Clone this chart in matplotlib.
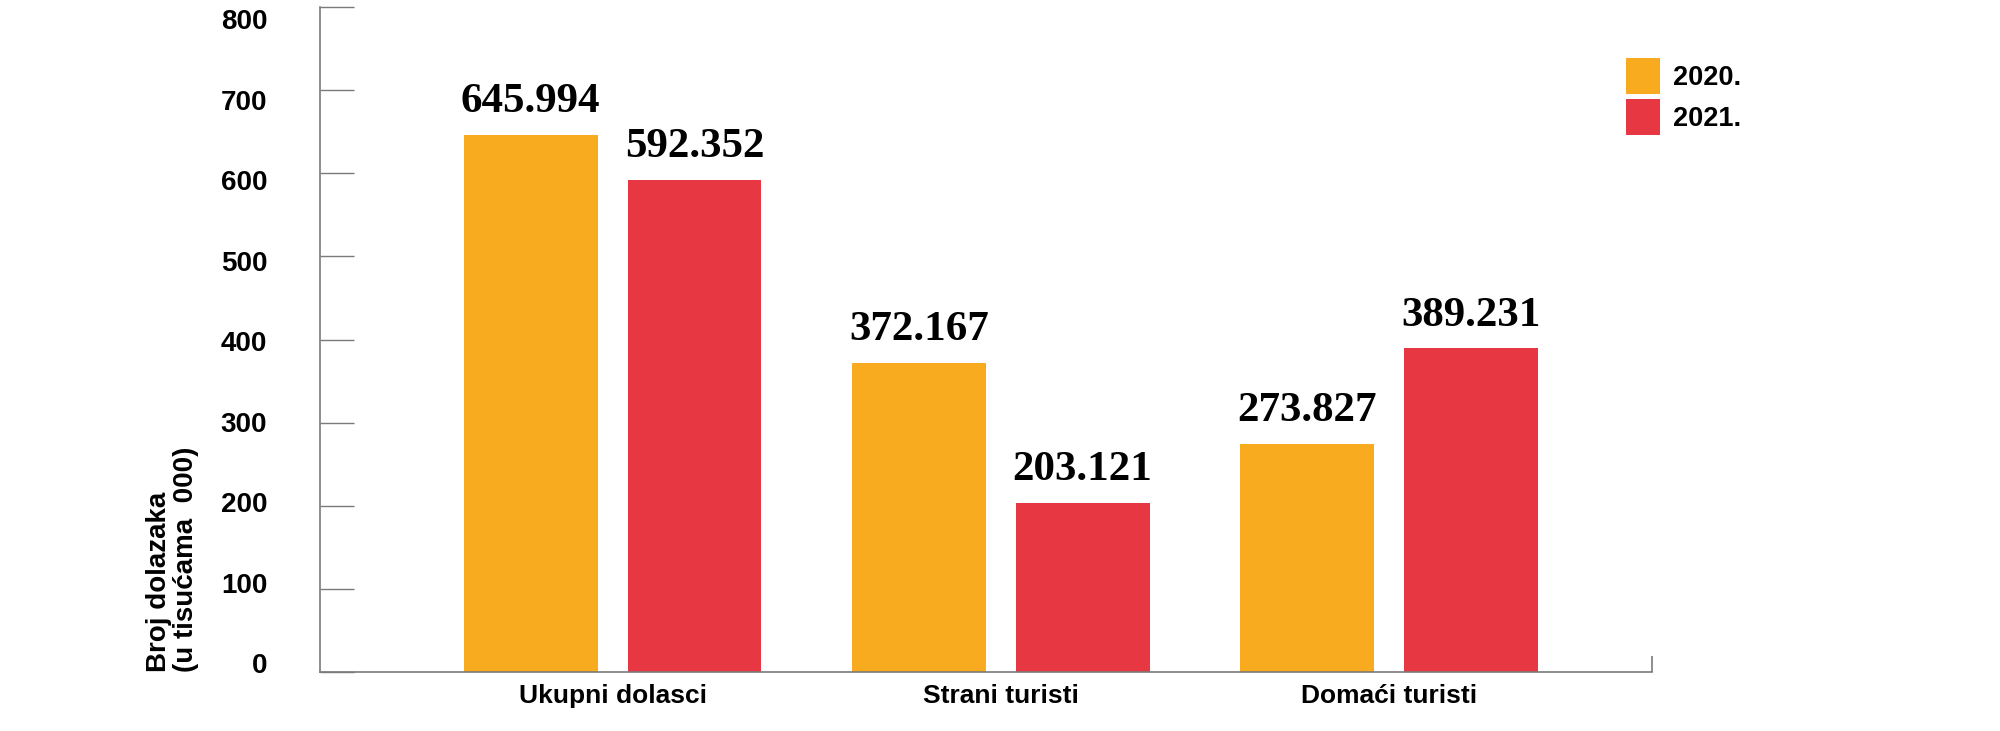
"""
Dolasci turista 2020. vs 2021. (u tisućama) — grouped bar chart.
Output: out.png
"""
import numpy as np
import matplotlib
matplotlib.use("Agg")
import matplotlib.pyplot as plt
from matplotlib.patches import Patch

# ---- data --------------------------------------------------------------
categories = ["Ukupni dolasci", "Strani turisti", "Domaći turisti"]
years = ["2020.", "2021."]
values_2020 = [645.994, 372.167, 273.827]
values_2021 = [592.352, 203.121, 389.231]
y_ticks = [0, 100, 200, 300, 400, 500, 600, 700, 800]
y_label = "Broj dolazaka\n(u tisućama  000)"

ORANGE = "#F9AB1F"
RED = "#E73743"
AXIS_GREY = "#7a7a7a"
SANS = ["Liberation Sans", "DejaVu Sans"]
SERIF = ["Liberation Serif", "DejaVu Serif"]


def fmt(v):
    return f"{v:.3f}"


def main():
    fig = plt.figure(figsize=(20, 7.31), dpi=100)
    ax = fig.add_axes([0.16, 0.0807, 0.666, 0.9097])

    x = np.arange(len(categories))
    w = 0.345
    off = 0.211
    b1 = ax.bar(x - off, values_2020, w, color=ORANGE, label=years[0])
    b2 = ax.bar(x + off, values_2021, w, color=RED, label=years[1])

    for bars, vals in ((b1, values_2020), (b2, values_2021)):
        for rect, v in zip(bars, vals):
            ax.annotate(fmt(v), (rect.get_x() + rect.get_width() / 2, v),
                        xytext=(0, 16.5), textcoords="offset points",
                        ha="center", va="baseline", fontsize=31,
                        fontweight="bold", family=SERIF, color="black")

    x_right = 2.678
    ax.set_xlim(-0.754, x_right)
    ax.set_ylim(0, 800)

    for s in ("top", "right"):
        ax.spines[s].set_visible(False)
    for s in ("left", "bottom"):
        ax.spines[s].set_color(AXIS_GREY)
        ax.spines[s].set_linewidth(1.2)

    # inward y ticks, labels drawn on a twin axis (slightly offset spacing)
    ax.set_yticks(y_ticks)
    ax.set_yticklabels([])
    ax.tick_params(axis="y", direction="in", length=24.5, width=1.0,
                   color=AXIS_GREY)

    ax.set_xticks(x)
    ax.set_xticklabels(categories, fontsize=19, fontweight="bold",
                       family=SANS)
    ax.tick_params(axis="x", length=0, pad=8.5)
    ax.set_xticks([x_right], minor=True)
    ax.tick_params(axis="x", which="minor", direction="in", length=11.5,
                   width=1.2, color=AXIS_GREY)

    ax2 = ax.twinx()
    ax2.set_ylim(-11.2, 815)
    ax2.yaxis.tick_left()
    ax2.set_yticks(y_ticks)
    ax2.set_yticklabels([str(t) for t in y_ticks], fontsize=20,
                        fontweight="bold", family=SANS)
    ax2.tick_params(axis="y", length=0, pad=38)
    for s in ax2.spines.values():
        s.set_visible(False)

    ax.text(-0.1107, 0.0, y_label, transform=ax.transAxes, rotation=90,
            ha="center", va="bottom", multialignment="left",
            fontsize=20, fontweight="bold", family=SANS, linespacing=1.05)

    handles = [Patch(facecolor=ORANGE), Patch(facecolor=RED)]
    fig.legend(handles, years, loc="upper left",
               bbox_to_anchor=(0.813, 0.9207), frameon=False,
               prop={"family": SANS, "weight": "bold", "size": 19.5},
               handlelength=1.25, handleheight=1.65, handletextpad=0.5,
               labelspacing=0.2, borderpad=0, borderaxespad=0)

    fig.savefig("out.png", dpi=100)
    plt.close(fig)


if __name__ == "__main__":
    main()
